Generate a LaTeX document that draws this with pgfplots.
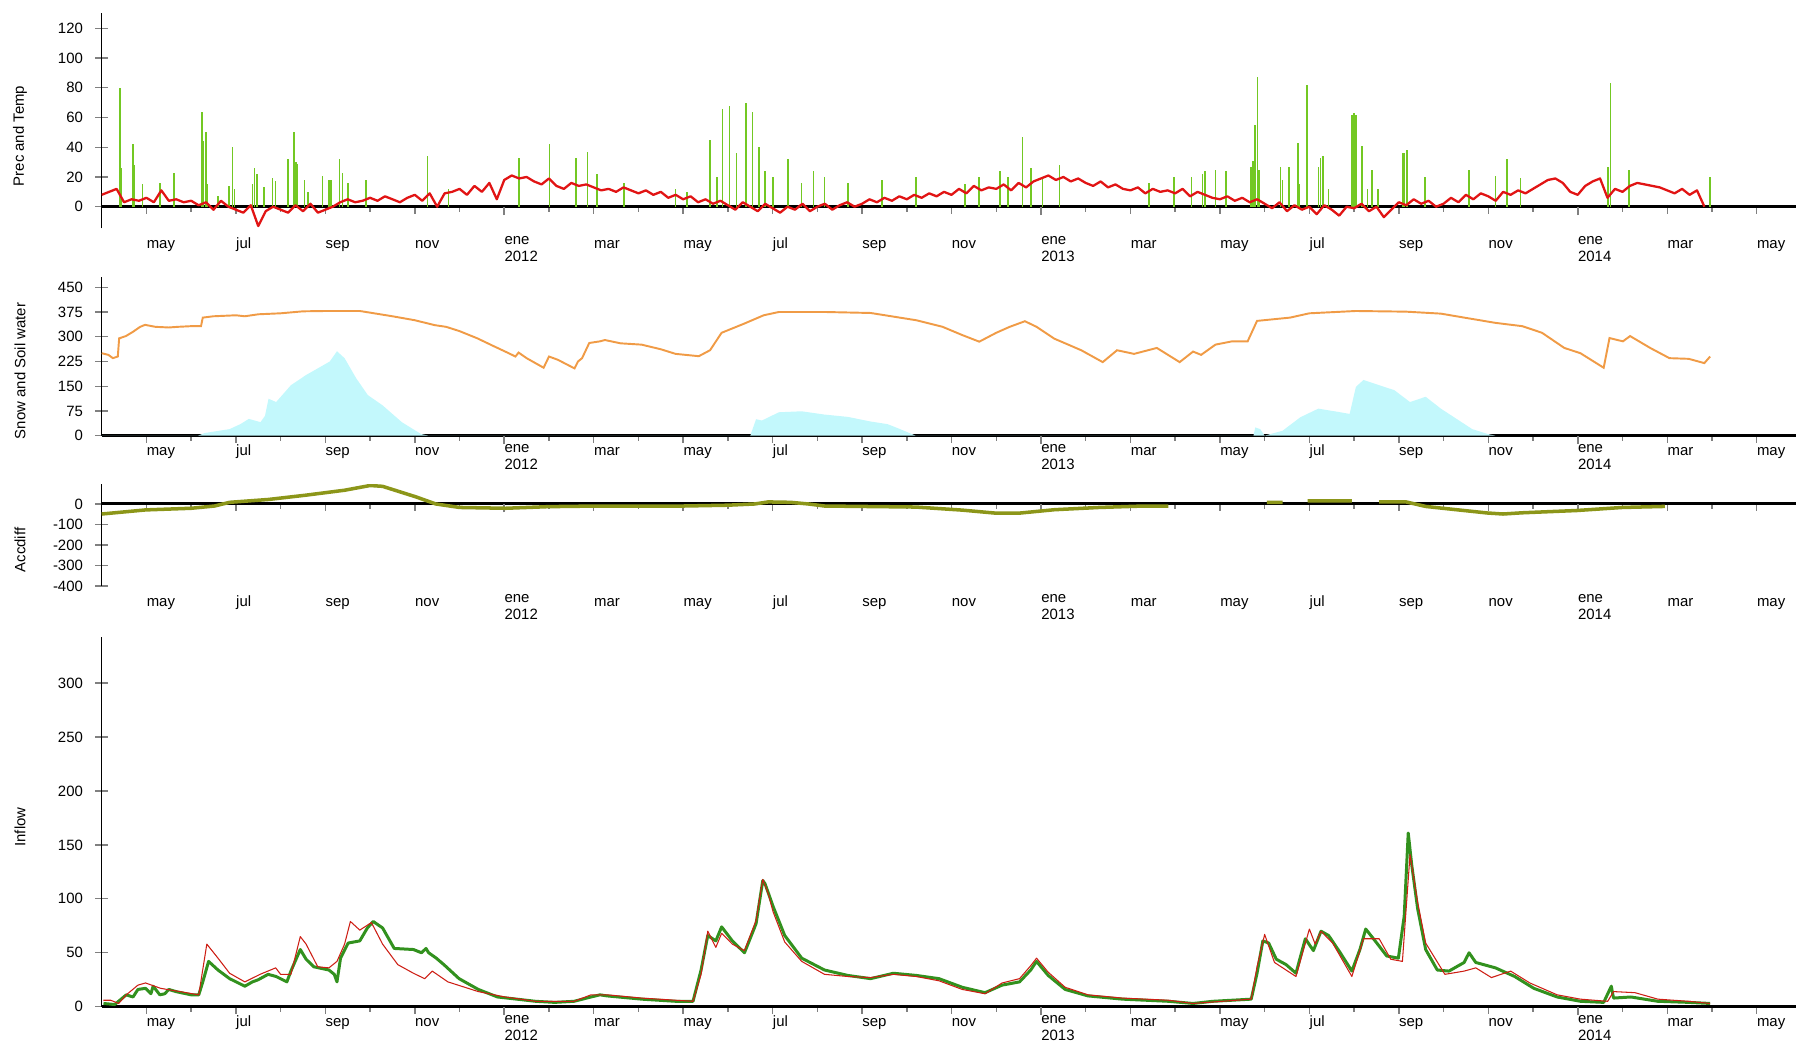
\documentclass[border=0pt]{standalone}
\usepackage{pgfplots}
\pgfplotsset{compat=1.18}
\usepackage{fontspec}
\setmainfont{Liberation Sans}

\definecolor{prec}{RGB}{115,200,35}
\definecolor{temp}{RGB}{225,20,20}
\definecolor{soil}{RGB}{240,155,70}
\definecolor{snow}{RGB}{195,248,252}
\definecolor{accd}{RGB}{140,150,25}
\definecolor{qobs}{RGB}{50,145,30}
\definecolor{qsim}{RGB}{205,30,20}

\newcommand{\tickfont}{\fontsize{8.5}{9.7}\selectfont}

\pgfplotsset{
  tsaxis/.style={
    scale only axis, anchor=south west,
    width=33.886cm, xmin=0, xmax=37.88,
    axis x line=middle, axis y line=left,
    axis line style={-},
    x axis line style={line width=1.7pt},
    y axis line style={line width=0.85pt},
    xtick={1,3,...,37},
    minor xtick={2,4,...,36},
    xticklabels={may,jul,sep,nov,{ene\\2012},mar,may,jul,sep,nov,{ene\\2013},mar,may,jul,sep,nov,{ene\\2014},mar,may},
    xtick align=outside,
    xtick style={line width=0.8pt, /pgfplots/major tick length=0.14cm, /pgfplots/minor tick length=0.1cm},
    extra x ticks={9,21,33}, extra x tick labels={},
    extra x tick style={xtick style={line width=1.4pt, /pgfplots/major tick length=0.17cm}},
    ytick align=center,
    ytick style={line width=0.7pt, /pgfplots/major tick length=0.26cm},
    yticklabel style={anchor=east, inner sep=0pt, xshift=-0.294cm, font=\tickfont},
    /pgf/number format/assume math mode=true,
    /pgf/number format/1000 sep={},
    tick label style={font=\tickfont},
  },
  xlab/.style={xticklabel style={anchor=north west, inner sep=0pt, align=left, font=\tickfont\strut, yshift=#1}},
}

\begin{document}
\begin{tikzpicture}
\useasboundingbox (0,0) rectangle (35.92,20.88);

% Prec and Temp
\begin{axis}[tsaxis, xlab=-0.44cm, at={(2.034cm,16.314cm)}, height=4.312cm,
  ymin=-14.5, ymax=130.5, ytick={0,20,...,120}]
\addplot[ycomb, draw=prec, line width=0.9pt, mark=none] coordinates {
(0.405,80) (0.447,26) (0.70,42) (0.72,28) (0.91,15) (1.30,16) (1.62,23)
(2.236,64) (2.26,44) (2.33,50) (2.36,15) (2.6,7) (2.84,14) (2.92,40) (2.97,12)
(3.37,15) (3.42,26) (3.47,22) (3.63,13) (3.82,19) (3.89,17) (4.17,32) (4.30,50)
(4.34,30) (4.38,29) (4.53,18) (4.61,10) (4.94,21) (5.08,18) (5.12,18) (5.32,32)
(5.38,23) (5.51,16) (5.91,18) (7.28,34) (7.75,12) (9.33,33) (10.01,42) (10.60,33)
(10.86,37) (11.07,22) (11.68,16) (12.83,12) (13.09,10) (13.6,45) (13.75,20)
(13.88,66) (14.04,68) (14.19,36) (14.4,70) (14.55,64) (14.7,40) (14.83,24)
(15.01,20) (15.34,32) (15.65,16) (15.91,24) (16.16,20) (16.68,16) (17.44,18)
(18.21,20) (19.3,15) (19.62,20) (20.08,24) (20.26,20) (20.59,47) (20.77,26)
(21.03,20) (21.41,28) (23.41,16) (23.97,20) (24.36,20) (24.61,22) (24.66,24)
(24.9,25) (25.14,24) (25.7,27) (25.74,31) (25.79,55) (25.84,87) (25.88,25)
(26.35,27) (26.4,18) (26.55,27) (26.74,43) (26.78,15) (26.95,82) (27.2,27)
(27.25,33) (27.31,34) (27.43,12) (27.95,62) (28.0,63) (28.04,62) (28.17,41)
(28.3,12) (28.4,25) (28.53,12) (29.08,36) (29.12,36) (29.18,38) (29.58,20)
(30.57,25) (31.16,21) (31.42,32) (31.72,19) (33.67,27) (33.73,83) (34.14,25)
(35.96,20)
};
\addplot[draw=temp, line width=1.3pt, line join=round, mark=none]
  table[header=false, row sep=\\, x expr=\coordindex/6, y index=0] {
8\\10\\12\\3\\5\\4\\ 6\\3\\11\\4\\5\\3\\ 4\\1\\3\\-2\\4\\0\\ -2\\-4\\1\\-13\\-3\\0\\
-2\\-4\\1\\-3\\2\\-4\\ -2\\0\\3\\5\\3\\4\\ 6\\4\\7\\5\\3\\6\\ 8\\4\\9\\0\\9\\10\\
12\\8\\14\\10\\16\\5\\ 18\\21\\19\\20\\17\\15\\ 19\\14\\12\\16\\14\\15\\ 13\\11\\12\\10\\13\\11\\
9\\11\\8\\10\\6\\8\\ 5\\7\\3\\5\\2\\4\\ 1\\-2\\3\\0\\-3\\2\\ -1\\-4\\0\\-2\\2\\-3\\
0\\2\\-2\\1\\3\\0\\ 2\\5\\3\\6\\4\\7\\ 5\\8\\6\\9\\7\\10\\ 8\\12\\9\\14\\11\\13\\
12\\15\\11\\16\\13\\17\\ 19\\21\\18\\20\\17\\19\\ 16\\14\\17\\13\\15\\12\\ 11\\13\\9\\12\\10\\11\\
9\\12\\7\\10\\8\\6\\ 5\\7\\4\\6\\3\\5\\ 2\\-1\\3\\-3\\1\\-2\\ 0\\-5\\1\\-2\\-6\\0\\
-1\\2\\-3\\0\\-7\\-2\\ 3\\1\\5\\2\\4\\0\\ 2\\6\\3\\8\\5\\9\\ 7\\4\\10\\8\\11\\9\\
12\\15\\18\\19\\16\\10\\ 8\\14\\17\\19\\6\\12\\ 10\\14\\16\\15\\14\\13\\ 11\\9\\12\\8\\11\\0\\
};
\end{axis}

% Snow and Soil water
\begin{axis}[tsaxis, xlab=-0.01cm, at={(2.034cm,12.166cm)}, height=3.18cm,
  ymin=0, ymax=482, ytick={0,75,...,450}]
\addplot[fill=snow, draw=none, mark=none] coordinates {
(0,0) (2.15,0) (2.3,8) (2.86,20) (3.1,35) (3.29,51) (3.55,41) (3.65,60) (3.73,112)
(3.9,102) (4.23,153) (4.57,184) (4.83,204) (5.1,225) (5.26,256) (5.43,235) (5.69,174)
(5.95,123) (6.28,92) (6.71,41) (7.14,5) (7.31,0) (14.5,0) (14.63,50) (14.76,46)
(15.14,71) (15.65,74) (16.16,64) (16.68,57) (17.19,43) (17.57,35) (17.83,21) (18.2,0)
(25.75,0) (25.79,25) (25.9,20) (26.0,0) (26.13,5) (26.4,15) (26.8,56) (27.2,82)
(27.65,72) (27.9,66) (28.04,148) (28.21,169) (28.56,153) (28.9,138) (29.25,102)
(29.6,118) (29.94,82) (30.29,51) (30.64,20) (30.99,5) (31.16,0)
} \closedcycle;
\addplot[draw=soil, line width=1.1pt, mark=none] coordinates {
(0,250) (0.15,245) (0.25,235) (0.36,240) (0.39,295) (0.54,302) (0.7,315) (0.86,330)
(0.97,336) (1.2,330) (1.5,328) (1.7,330) (2.0,332) (2.22,332) (2.26,358) (2.5,362)
(3.0,365) (3.2,362) (3.5,368) (4.0,371) (4.5,377) (5.0,378) (5.77,378) (6.0,373)
(6.5,362) (7.0,350) (7.3,340) (7.45,335) (7.7,330) (8.0,317) (8.4,295) (8.77,271)
(9.1,250) (9.25,240) (9.32,252) (9.5,235) (9.88,206) (10.0,240) (10.2,230) (10.57,204)
(10.65,225) (10.74,235) (10.9,281) (11.14,286) (11.25,290) (11.6,280) (12.07,276)
(12.5,262) (12.83,248) (13.35,241) (13.6,259) (13.86,312) (14.37,340) (14.8,365)
(15.14,375) (16.16,375) (17.19,372) (18.21,350) (18.8,330) (19.24,305) (19.62,285)
(20.0,312) (20.3,330) (20.64,347) (20.9,330) (21.3,294) (21.9,259) (22.38,223)
(22.7,259) (23.08,248) (23.59,266) (24.1,223) (24.4,255) (24.58,245) (24.9,276)
(25.27,286) (25.62,286) (25.83,348) (26.57,358) (27.0,371) (28.04,378) (29.16,376)
(29.94,370) (30.46,358) (31.16,342) (31.76,332) (32.2,312) (32.7,266) (33.06,250)
(33.58,206) (33.71,296) (34.01,286) (34.17,302) (34.62,266) (35.05,235) (35.48,233)
(35.83,220) (35.96,240)
};
\end{axis}

% Accdiff
\begin{axis}[tsaxis, xlab=-1.65cm, at={(2.034cm,9.16cm)}, height=2.034cm,
  ymin=-400, ymax=96, ytick={-400,-300,...,0}, unbounded coords=jump]
\addplot[draw=accd, line width=2pt, mark=none] coordinates {
(0,-49) (0.98,-29) (2.0,-21) (2.52,-10) (2.86,8) (3.73,22) (4.57,43) (5.43,67)
(6.0,90) (6.28,86) (7.02,35) (7.47,0) (8.0,-17) (9.03,-21) (10.0,-13) (11.08,-10)
(12.0,-10) (13.0,-10) (14.0,-6) (14.6,0) (14.9,10) (15.4,8) (15.8,0) (16.16,-10)
(18.2,-15) (19.24,-30) (20.0,-45) (20.5,-45) (21.3,-28) (22.3,-17) (23.3,-10)
(23.85,-10) (24.0,nan)
(26.05,8) (26.4,8) (26.5,nan)
(26.96,15) (27.95,15) (28.2,nan)
(28.56,10) (29.16,10) (29.6,-12) (29.94,-20) (30.46,-32) (30.98,-44) (31.33,-49)
(31.76,-43) (32.97,-32) (34.0,-17) (34.95,-12)
};
\end{axis}

% Inflow
\begin{axis}[tsaxis, xlab=-0.01cm, at={(2.034cm,0.746cm)}, height=7.4cm,
  ymin=0, ymax=343, ytick={0,50,...,300}]
\addplot[draw=qobs, line width=1.7pt, line join=round, mark=none] coordinates {
(0.04,3) (0.29,2) (0.55,11) (0.7,9) (0.81,16) (0.98,17) (1.1,12) (1.15,19) (1.3,11)
(1.41,12) (1.5,16) (1.66,14) (2.0,11) (2.17,11) (2.26,23) (2.39,42) (2.6,34) (2.86,26)
(3.2,19) (3.37,23) (3.5,25) (3.72,30) (3.9,28) (4.14,23) (4.23,33) (4.44,53) (4.57,44)
(4.74,37) (5.08,34) (5.2,30) (5.26,23) (5.34,45) (5.51,59) (5.77,61) (5.94,73)
(6.07,79) (6.28,73) (6.54,54) (6.97,53) (7.15,50) (7.25,54) (7.31,50) (7.48,45)
(7.65,39) (7.99,26) (8.42,16) (8.85,9) (9.28,7) (9.7,5) (10.13,4) (10.56,5) (10.94,9)
(11.14,11) (11.3,10) (12.07,7) (12.83,5) (13.22,5) (13.4,34) (13.55,66) (13.73,61)
(13.86,74) (14.1,61) (14.37,50) (14.63,77) (14.78,117) (14.83,114) (15.01,93)
(15.27,66) (15.65,45) (16.16,34) (16.68,29) (17.19,26) (17.7,31) (18.21,29)
(18.72,26) (19.24,18) (19.75,13) (20.13,20) (20.52,23) (20.77,34) (20.9,42)
(21.16,29) (21.54,16) (22.05,10) (22.82,7) (23.85,5) (24.4,3) (24.84,5) (25.7,7)
(25.83,31) (25.96,61) (26.09,59) (26.26,44) (26.48,39) (26.7,31) (26.91,63)
(27.09,52) (27.26,70) (27.43,66) (27.69,50) (27.95,33) (28.13,53) (28.26,72)
(28.47,61) (28.73,47) (28.99,45) (29.12,84) (29.21,161) (29.29,131) (29.42,91)
(29.6,53) (29.86,34) (30.12,33) (30.46,41) (30.57,50) (30.72,41) (31.16,36)
(31.59,28) (32.02,17) (32.54,9) (33.06,5) (33.58,4) (33.75,19) (33.8,8) (34.19,9)
(34.79,5) (35.48,4) (35.96,3)
};
\addplot[draw=qsim, line width=0.6pt, line join=round, mark=none] coordinates {
(0.04,6) (0.2,6) (0.38,3) (0.55,11) (0.81,20) (0.98,22) (1.32,17) (1.75,14) (2.17,11)
(2.35,58) (2.6,45) (2.86,31) (3.2,23) (3.54,30) (3.89,36) (4.0,30) (4.23,30) (4.44,65)
(4.57,58) (4.83,37) (5.08,36) (5.26,42) (5.43,58) (5.56,79) (5.77,71) (6.03,78)
(6.28,58) (6.62,39) (6.97,31) (7.22,26) (7.39,33) (7.74,23) (8.42,14) (9.02,9)
(9.7,5) (10.56,5) (10.94,11) (11.3,11) (12.07,8) (12.83,6) (13.22,5) (13.4,30)
(13.55,70) (13.73,55) (13.86,68) (14.1,58) (14.37,52) (14.63,80) (14.78,118)
(14.9,105) (15.01,88) (15.27,60) (15.65,42) (16.16,30) (16.68,28) (17.19,27)
(17.7,30) (18.21,28) (18.72,24) (19.24,16) (19.75,12) (20.13,22) (20.52,26)
(20.77,38) (20.9,45) (21.16,32) (21.54,18) (22.05,11) (22.82,8) (23.85,6) (24.4,3)
(25.7,7) (25.83,37) (26.0,67) (26.22,41) (26.7,28) (27.0,72) (27.13,58) (27.26,70)
(27.52,59) (27.95,28) (28.21,63) (28.56,63) (28.82,44) (29.08,42) (29.25,141)
(29.42,97) (29.6,59) (30.03,30) (30.46,33) (30.72,36) (31.07,27) (31.5,33)
(31.93,22) (32.54,11) (33.06,7) (33.67,5) (33.8,14) (34.28,13) (34.79,7) (35.48,5)
(35.96,3)
};
\end{axis}

\node[rotate=90, font=\tickfont] at (0.4,18.16) {Prec and Temp};
\node[rotate=90, font=\tickfont] at (0.4,13.46) {Snow and Soil water};
\node[rotate=90, font=\tickfont] at (0.4,9.88) {Accdiff};
\node[rotate=90, font=\tickfont] at (0.4,4.34) {Inflow};
\end{tikzpicture}
\end{document}
